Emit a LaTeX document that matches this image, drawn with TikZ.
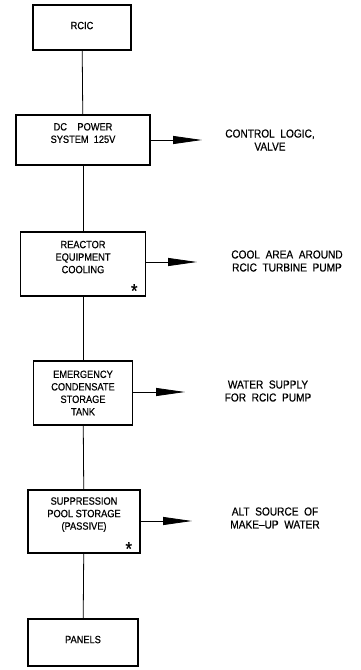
\documentclass[tikz,border=0pt]{standalone}
\usepackage{fontspec}
\setmainfont[FakeStretch=0.88,FakeBold=0.6]{Liberation Sans}
\usepackage{tikz}
\usetikzlibrary{positioning,arrows.meta}

\begin{document}
\begin{tikzpicture}[
  x=1pt, y=-1pt,
  every node/.style={font=\fontsize{10.5}{12.5}\selectfont},
  sysbox/.style={draw, line width=1.5pt, align=center, inner sep=0pt},
  note/.style={align=center, inner sep=0pt, font=\fontsize{11.5}{13}\selectfont},
  starmark/.style={inner sep=0pt, font=\fontsize{19}{19}\selectfont},
  link/.style={line width=0.8pt},
  arrow/.style={-{Triangle[length=29pt,width=8pt]}, line width=0.8pt}
]
  \useasboundingbox (0,0) rectangle (360,670);

  \node[sysbox, minimum width=98pt, minimum height=45pt, text depth=4pt] (rcic) at (82,27.5) {RCIC};
  \node[sysbox, minimum width=134pt, minimum height=50pt, text depth=14pt] (dc) at (83,140) {DC\quad POWER\\SYSTEM\ \ 125V};
  \node[sysbox, minimum width=125pt, minimum height=64pt, text depth=14pt] (rec) at (83,264) {REACTOR\\EQUIPMENT\\COOLING};
  \node[sysbox, minimum width=99pt, minimum height=64pt] (ecst) at (83,393) {EMERGENCY\\CONDENSATE\\STORAGE\\TANK};
  \node[sysbox, minimum width=112pt, minimum height=63pt, text depth=16pt] (spp) at (84,521.5) {SUPPRESSION\\POOL STORAGE\\(PASSIVE)};
  \node[sysbox, minimum width=110pt, minimum height=47pt, text depth=6pt] (pan) at (83,642.5) {PANELS};

  % asterisks
  \node[starmark] (recstar) at ([shift={(-12,-6)}]rec.south east) {*};
  \node[starmark] (sppstar) at ([shift={(-12,-5)}]spp.south east) {*};

  % arrow tips
  \coordinate (dctip)   at (202,140);
  \coordinate (rectip)  at (197,262);
  \coordinate (ecsttip) at (185,392);
  \coordinate (spptip)  at (192,521);

  \node[note] (ctrl)  at (270,140) {CONTROL\ \ LOGIC,\\VALVE};
  \node[note] (cool)  at (287,261) {COOL\ \ AREA\ \ AROUND\\RCIC\ \ TURBINE\ \ PUMP};
  \node[note] (water) at (268,391) {WATER\ \ SUPPLY\\FOR\ \ RCIC\ \ PUMP};
  \node[note] (alt)   at (275,518) {ALT\ \ SOURCE\ \ OF\\MAKE--UP\ \ WATER};

  \draw[link] (rcic) -- (dc);
  \draw[link] (dc) -- (rec);
  \draw[link] (rec) -- (ecst);
  \draw[link] (ecst) -- (spp);
  \draw[link] (spp) -- (pan);

  \draw[arrow] (dc.east) -- (dctip);
  \draw[arrow] (rec.east |- rectip) -- (rectip);
  \draw[arrow] (ecst.east |- ecsttip) -- (ecsttip);
  \draw[arrow] (spp.east |- spptip) -- (spptip);
\end{tikzpicture}
\end{document}
